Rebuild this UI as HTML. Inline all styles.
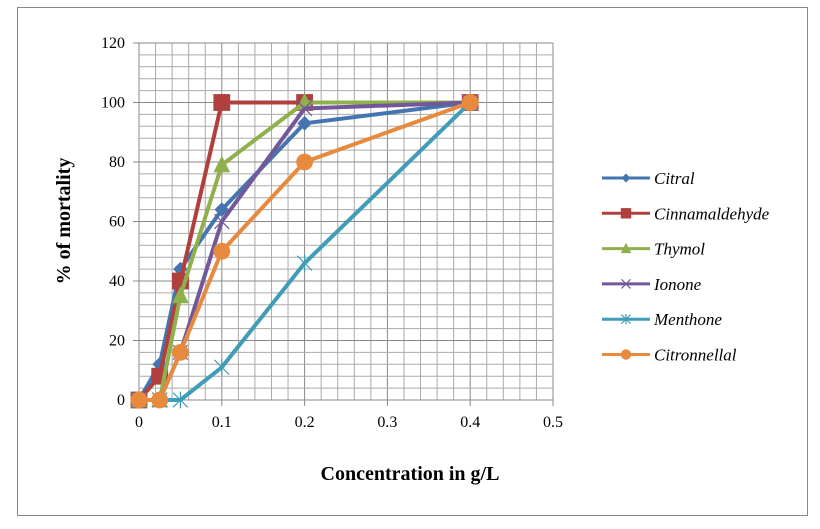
<!DOCTYPE html>
<html><head><meta charset="utf-8"><style>
html,body{margin:0;padding:0;background:#fff;}
svg{display:block;font-family:"Liberation Serif",serif;}
</style></head><body>
<svg id="c" width="820" height="529">
<rect x="17.5" y="7.5" width="790" height="508" fill="#fff" stroke="#888"/>
<g id="grid"></g>
<g id="series"></g>
<g id="legend"></g>
<text x="410" y="480" text-anchor="middle" font-size="20" font-weight="bold">Concentration in g/L</text>
<text transform="translate(70,221) rotate(-90)" text-anchor="middle" font-size="20" font-weight="bold">% of mortality</text>
</svg>
<script>
const xValues=[0,0.025,0.05,0.1,0.2,0.4];
const seriesNames=["Citral","Cinnamaldehyde","Thymol","Ionone","Menthone","Citronnellal"];
const citral=[0,12,44,64,93,100];
const cinnamaldehyde=[0,8,40,100,100,100];
const thymol=[0,0,35,79,100,100];
const ionone=[0,0,16,60,98,100];
const menthone=[0,0,0,11,46,100];
const citronnellal=[0,0,16,50,80,100];
const xTicks=[0,0.1,0.2,0.3,0.4,0.5];
const yTicks=[0,20,40,60,80,100,120];
const NS="http://www.w3.org/2000/svg";
const X0=139,X1=553,Y0=400,Y1=43;
const sx=v=>X0+(v/0.5)*(X1-X0);
const sy=v=>Y0-(v/120)*(Y0-Y1);
function mk(t,a,p){const e=document.createElementNS(NS,t);for(const k in a)e.setAttribute(k,a[k]);p.appendChild(e);return e;}
const g=document.getElementById('grid');
for(let i=0;i<=25;i++){const x=sx(i*0.02);const maj=i%5===0;
 const l=mk('line',{x1:x,x2:x,y1:Y1,y2:maj?Y0+6:Y0,stroke:maj?'#888':'#aaa','stroke-width':1},g);
 }
for(let i=0;i<=30;i++){const y=sy(i*4);const maj=i%5===0;
 const l=mk('line',{x1:maj?X0-6:X0,x2:X1,y1:y,y2:y,stroke:maj?'#888':'#aaa','stroke-width':1},g);
 }
xTicks.forEach(v=>{const t=mk('text',{x:sx(v),y:Y0+27,'text-anchor':'middle','font-size':16},g);t.textContent=String(v);
 });
yTicks.forEach(v=>{const t=mk('text',{x:X0-14,y:sy(v)+5,'text-anchor':'end','font-size':16},g);t.textContent=String(v);
 });
const data=[citral,cinnamaldehyde,thymol,ionone,menthone,citronnellal];
const colors=["#4475b0","#b0403d","#8fb04c","#72589a","#3f9db8","#e88a3e"];
const markers=["diamond","square","triangle","x","star","circle"];
function marker(type,x,y,c,p,s){
 if(type==="diamond")mk('polygon',{points:`${x},${y-7*s} ${x+7*s},${y} ${x},${y+7*s} ${x-7*s},${y}`,fill:c},p);
 else if(type==="square")mk('rect',{x:x-8*s,y:y-8*s,width:16*s,height:16*s,fill:c},p);
 else if(type==="triangle")mk('polygon',{points:`${x},${y-9*s} ${x+8*s},${y+7*s} ${x-8*s},${y+7*s}`,fill:c},p);
 else if(type==="circle")mk('circle',{cx:x,cy:y,r:8*s,fill:c},p);
 else if(type==="x"){mk('path',{d:`M${x-7*s},${y-7*s}L${x+7*s},${y+7*s}M${x+7*s},${y-7*s}L${x-7*s},${y+7*s}`,stroke:c,'stroke-width':1.2,fill:'none'},p);}
 else {mk('path',{d:`M${x-7*s},${y-7*s}L${x+7*s},${y+7*s}M${x+7*s},${y-7*s}L${x-7*s},${y+7*s}M${x},${y-8*s}L${x},${y+8*s}`,stroke:c,'stroke-width':1.2,fill:'none'},p);}
}
const sg=document.getElementById('series');
data.forEach((d,i)=>{
 const gr=mk('g',{},sg);
 
 
 const pts=d.map((v,j)=>sx(xValues[j])+','+sy(v)).join(' ');
 const pl=mk('polyline',{points:pts,fill:'none',stroke:colors[i],'stroke-width':4,'stroke-linejoin':'round'},gr);
 
 
 d.forEach((v,j)=>marker(markers[i],sx(xValues[j]),sy(v),colors[i],gr,1.05));
});
const lg=document.getElementById('legend');
seriesNames.forEach((n,i)=>{
 const y=178+i*35.3;
 const e=mk('g',{},lg);
 
 
 mk('line',{x1:602,x2:650,y1:y,y2:y,stroke:colors[i],'stroke-width':3},e);
 marker(markers[i],626,y,colors[i],e,0.65);
 const t=mk('text',{x:654,y:y+6,'font-size':17,'font-style':'italic'},e);t.textContent=n;
});
</script>
</body></html>
